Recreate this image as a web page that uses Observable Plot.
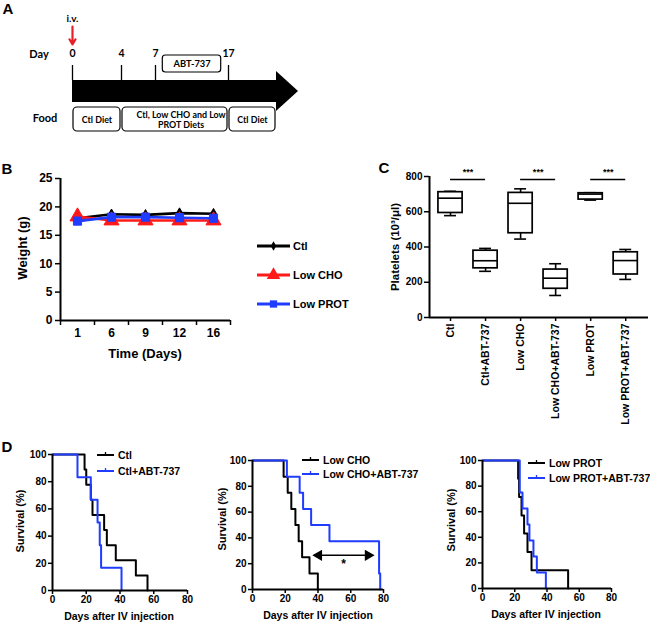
<!DOCTYPE html>
<html><head><meta charset="utf-8">
<script src="https://cdn.jsdelivr.net/npm/d3@7"></script>
<script src="https://cdn.jsdelivr.net/npm/@observablehq/plot@0.6"></script>
<style>
body{margin:0;background:#fff}
#fig{position:relative;width:650px;height:624px;overflow:hidden;background:#fff;color:#000}
</style></head><body><div id="fig"></div>
<script>
// ---------------- DATA ----------------
// Panel A (schematic timeline)
const dayTicks = [0, 4, 7, 17];
const timelineEnd = 21;      // schematic end of the timeline body
const arrowTip = 23;         // schematic tip of the arrow head
const abtWindow = [{start: 8, end: 16, label: "ABT-737"}];
const foodPhases = [
  {start: 0, end: 4, label: "Ctl Diet"},
  {start: 4, end: 17, label: "Ctl, Low CHO and Low\nPROT Diets"},
  {start: 17, end: 21, label: "Ctl Diet"}
];
// Panel B (weight)
const weightDays = ["1", "6", "9", "12", "16"];
const weightCtl = [18.0, 18.7, 18.6, 18.9, 18.8];
const weightLowCHO = [18.3, 17.6, 17.6, 17.6, 17.6];
const weightLowPROT = [17.5, 18.2, 18.2, 18.1, 18.0];
const weightSeriesNames = ["Ctl", "Low CHO", "Low PROT"];
// Panel C (platelets box plots)
const plateletGroups = ["Ctl", "Ctl+ABT-737", "Low CHO", "Low CHO+ABT-737", "Low PROT", "Low PROT+ABT-737"];
const plateletMin = [578, 262, 445, 125, 666, 216];
const plateletQ1 = [593, 279, 478, 163, 669, 244];
const plateletMedian = [677, 322, 648, 223, 700, 323];
const plateletQ3 = [711, 379, 707, 272, 705, 370];
const plateletMax = [716, 392, 730, 305, 708, 386];
const sigPairs = [[0, 1], [2, 3], [4, 5]];
const sigLevel = 783;
const sigLabel = "***";
// Panel D (survival, step curves)
const ctlDays = [0, 19, 20, 22.7, 23.7, 30.6, 32.2, 37.5, 49.4, 56.3];
const ctlSurv = [100, 88.9, 77.8, 66.7, 55.6, 44.4, 33.3, 22.2, 11.1, 0];
const ctlAbtDays = [0, 14.8, 22.7, 26.7, 28, 28.8, 40.9];
const ctlAbtSurv = [100, 83.3, 66.7, 50, 33.3, 16.7, 0];
const choDays = [0, 19, 21.5, 23.7, 26.2, 28.2, 30.3, 34.8, 39.9];
const choSurv = [100, 87.5, 75, 62.5, 50, 37.5, 25, 12.5, 0];
const choAbtDays = [0, 21, 28.8, 30.9, 35.8, 47, 77.3, 78];
const choAbtSurv = [100, 87.5, 75, 62.5, 50, 37.5, 12.5, 0];
const protDays = [0, 22.1, 22.7, 24.2, 25.8, 27.9, 30.4, 53.1];
const protSurv = [100, 85.7, 71.4, 57.1, 42.9, 28.6, 14.3, 0];
const protAbtDays = [0, 23.1, 24.8, 27.9, 29.1, 31.6, 33.7, 39.3];
const protAbtSurv = [100, 75, 62.5, 50, 37.5, 25, 12.5, 0];
const choSigRange = [40.5, 70.6];
const choSigLevel = 26.5;

// ---------------- HELPERS ----------------
const FONT = "'Liberation Sans', Arial, Helvetica, sans-serif";
const FONT_A = "Lato, 'Open Sans', sans-serif";
const BLACK = "#000", RED = "#ff1a1a", BLUE = "#1f3cff";
const fig = document.getElementById("fig");
function put(el, left, top) {
  el.style.position = "absolute"; el.style.left = left + "px"; el.style.top = top + "px";
  fig.appendChild(el); return el;
}
function txt(s, x, y, o = {}) {
  const d = document.createElement("div");
  d.textContent = s;
  d.style.cssText = `position:absolute;left:${x}px;top:${y}px;white-space:nowrap;font-size:${o.size ?? 11}px;font-weight:${o.weight ?? "bold"};font-family:${o.family ?? FONT};line-height:1;`;
  const tx = o.anchor === "start" ? "0" : o.anchor === "end" ? "-100%" : "-50%";
  d.style.transform = `translate(${tx},-50%)` + (o.rotate ? ` rotate(${o.rotate}deg)` : "");
  fig.appendChild(d);
}
const baseStyle = (size) => ({fontFamily: FONT, fontWeight: "bold", fontSize: size + "px", color: "#000", background: "transparent", overflow: "visible"});

// ---------------- PANEL LETTERS ----------------
txt("A", 8, 8, {size: 15});
txt("B", 7, 168, {size: 15});
txt("C", 384, 167, {size: 15});
txt("D", 7, 446, {size: 15});

// ---------------- PANEL A ----------------
const row = {iv: 18, ivTop: 26, ivBottom: 44, day: 53, abtTop: 55, abtBottom: 72, tickTop: 65,
  barTop: 80, barBottom: 102, headTop: 71, headBottom: 111, headMid: 91, foodTop: 107, foodBottom: 131, foodMid: 119};
const plotA = Plot.plot({
  width: 310, height: 140, margin: 0,
  x: {type: "linear", domain: [0, 4, 7, 17, timelineEnd, arrowTip], range: [72, 121, 155, 228, 276, 298], axis: null},
  y: {type: "linear", domain: [0, 140], range: [0, 140], axis: null},
  style: {fontFamily: FONT_A, fontWeight: "bold", fontSize: "9.3px", background: "transparent", overflow: "visible"},
  marks: [
    Plot.text([dayTicks[0]], {x: d => d, y: () => row.iv, text: () => "i.v.", fontSize: 10}),
    Plot.arrow([dayTicks[0]], {x1: d => d, x2: d => d, y1: () => row.ivTop, y2: () => row.ivBottom, stroke: "#e8202a", strokeWidth: 2.2, headLength: 6}),
    Plot.text(dayTicks, {x: d => d, y: () => row.day, text: d => String(d), fontSize: 10.5}),
    Plot.ruleX(dayTicks, {x: d => d, y1: () => row.tickTop, y2: () => row.barTop, strokeWidth: 1.3}),
    Plot.rect(abtWindow, {x1: "start", x2: "end", y1: () => row.abtTop, y2: () => row.abtBottom, rx: 3, fill: "white", stroke: BLACK, strokeWidth: 1.2}),
    Plot.text(abtWindow, {x: d => (d.start + d.end) / 2, y: () => (row.abtTop + row.abtBottom) / 2, text: "label"}),
    Plot.rect([timelineEnd], {x1: () => 0, x2: d => d, y1: () => row.barTop, y2: () => row.barBottom, fill: BLACK}),
    Plot.areaY([{x: timelineEnd, y1: row.headTop, y2: row.headBottom}, {x: arrowTip, y1: row.headMid, y2: row.headMid}], {x: "x", y1: "y1", y2: "y2", fill: BLACK}),
    Plot.rect(foodPhases, {x1: "start", x2: "end", y1: () => row.foodTop, y2: () => row.foodBottom, rx: 4, insetLeft: 1, insetRight: 1, fill: "white", stroke: BLACK, strokeWidth: 1.2}),
    Plot.text(foodPhases, {x: d => (d.start + d.end) / 2, y: () => row.foodMid, text: "label", lineHeight: 1.1, fontSize: 8.9})
  ]
});
put(plotA, 0, 0);
txt("Day", 39, 53, {size: 11, family: FONT_A});
txt("Food", 45, 117, {size: 11, family: FONT_A});

// ---------------- PANEL B ----------------
const weightValues = [weightCtl, weightLowCHO, weightLowPROT];
const weightStyle = [
  {color: BLACK, symbol: "diamond", r: 3.2},
  {color: RED, symbol: "triangle", r: 5.6},
  {color: BLUE, symbol: "square", r: 4.6}
];
const idxB = d3.range(weightDays.length);
const plotB = Plot.plot({
  width: 240, height: 205, marginLeft: 60, marginRight: 10, marginTop: 18, marginBottom: 45,
  x: {type: "linear", domain: [-0.5, weightDays.length - 0.5]},
  y: {domain: [0, 25]},
  style: baseStyle(12),
  marks: [
    Plot.axisY({ticks: [0, 5, 10, 15, 20, 25], tickSize: 5, tickPadding: 3, strokeWidth: 1.5, label: null}),
    Plot.axisX({ticks: idxB, tickFormat: i => weightDays[i], tickSize: 0, tickPadding: 8, label: null}),
    Plot.axisX({ticks: d3.range(-0.5, weightDays.length, 1), tickFormat: () => "", tickSize: 5, strokeWidth: 1.5, label: null}),
    Plot.ruleX([-0.5], {strokeWidth: 2}),
    Plot.ruleY([0], {strokeWidth: 2}),
    ...weightValues.flatMap((vals, k) => {
      const rows = vals.map((v, i) => ({i, v}));
      const s = weightStyle[k];
      return [
        Plot.line(rows, {x: "i", y: "v", stroke: s.color, strokeWidth: 2.6}),
        Plot.dot(rows, {x: "i", y: "v", symbol: s.symbol, r: s.r, fill: s.color, stroke: s.color, strokeWidth: 1})
      ];
    })
  ]
});
put(plotB, 0, 160);
txt("Weight (g)", 22, 248, {size: 13, rotate: -90});
txt("Time (Days)", 145, 353, {size: 13});
// legend B
weightSeriesNames.forEach((name, k) => {
  const s = weightStyle[k];
  const y = 246 + k * 29;
  const svg = d3.create("svg").attr("width", 36).attr("height", 16);
  svg.append("line").attr("x1", 1).attr("x2", 34).attr("y1", 8).attr("y2", 8).attr("stroke", s.color).attr("stroke-width", 2.8);
  const sym = {diamond: d3.symbolDiamond, triangle: d3.symbolTriangle, square: d3.symbolSquare}[s.symbol];
  svg.append("path").attr("d", d3.symbol(sym, Math.PI * s.r * s.r * 0.8)()).attr("transform", "translate(17.5,8)").attr("fill", s.color);
  put(svg.node(), 256, y - 8);
  txt(name, 293, y, {size: 11, anchor: "start"});
});

// ---------------- PANEL C ----------------
const idxC = d3.range(plateletGroups.length);
const halfBox = 0.345, halfCap = 0.17;
const plotC = Plot.plot({
  width: 310, height: 270, marginLeft: 89, marginRight: 2, marginTop: 16, marginBottom: 113,
  x: {type: "linear", domain: [-0.6, 5.65]},
  y: {domain: [0, 800]},
  style: baseStyle(10),
  marks: [
    Plot.axisY({ticks: [0, 200, 400, 600, 800], tickSize: 5, tickPadding: 2, strokeWidth: 1.5, label: null}),
    Plot.axisX({ticks: idxC, tickFormat: i => plateletGroups[i], tickRotate: -90, tickSize: 4, tickPadding: 2, strokeWidth: 1.5, label: null, fontSize: 10.5}),
    Plot.ruleX([-0.6], {strokeWidth: 2}),
    Plot.ruleY([0], {strokeWidth: 2}),
    Plot.ruleX(idxC, {x: i => i, y1: i => plateletMin[i], y2: i => plateletMax[i], strokeWidth: 1.6}),
    Plot.ruleY(idxC, {x1: i => i - halfCap, x2: i => i + halfCap, y: i => plateletMin[i], strokeWidth: 1.6}),
    Plot.ruleY(idxC, {x1: i => i - halfCap, x2: i => i + halfCap, y: i => plateletMax[i], strokeWidth: 1.6}),
    Plot.rect(idxC, {x1: i => i - halfBox, x2: i => i + halfBox, y1: i => plateletQ1[i], y2: i => plateletQ3[i], fill: "white", stroke: BLACK, strokeWidth: 1.7}),
    Plot.ruleY(idxC, {x1: i => i - halfBox, x2: i => i + halfBox, y: i => plateletMedian[i], strokeWidth: 1.6}),
    Plot.ruleY(sigPairs, {x1: p => p[0], x2: p => p[1], y: () => sigLevel, strokeWidth: 1.6}),
    Plot.text(sigPairs, {x: p => (p[0] + p[1]) / 2, y: () => sigLevel, dy: -7, text: () => sigLabel, fontSize: 9})
  ]
});
put(plotC, 340, 160);
txt("Platelets (10³/μl)", 396, 247, {size: 11.5, rotate: -90});

// ---------------- PANEL D ----------------
function steps(days, surv) { return days.map((t, i) => ({t, s: surv[i]})); }
function survivalPlot(series, dims, extra = []) {
  return Plot.plot({
    width: dims.width, height: dims.height, marginLeft: dims.ml, marginRight: dims.mr, marginTop: 14, marginBottom: 15,
    x: {domain: [0, 80]},
    y: {domain: [0, 100]},
    style: baseStyle(10),
    marks: [
      Plot.axisY({ticks: [0, 20, 40, 60, 80, 100], tickSize: 4, tickPadding: 2, strokeWidth: 1.5, label: null}),
      Plot.axisX({ticks: [0, 20, 40, 60, 80], tickSize: 4, tickPadding: 1, strokeWidth: 1.5, label: null}),
      ...series.map(s => Plot.line(steps(s.days, s.surv), {x: "t", y: "s", curve: "step-after", stroke: s.color, strokeWidth: 2})),
      Plot.ruleX([0], {strokeWidth: 2}),
      Plot.ruleY([0], {strokeWidth: 2}),
      ...extra
    ]
  });
}
function legendD(names, colors, x, ys) {
  names.forEach((name, k) => {
    const svg = d3.create("svg").attr("width", 20).attr("height", 10);
    svg.append("line").attr("x1", 1).attr("x2", 18).attr("y1", 5).attr("y2", 5).attr("stroke", colors[k]).attr("stroke-width", 2);
    svg.append("line").attr("x1", 9.5).attr("x2", 9.5).attr("y1", 2).attr("y2", 5).attr("stroke", colors[k]).attr("stroke-width", 1.3);
    put(svg.node(), x, ys[k] - 5);
    txt(name, x + 22, ys[k], {size: 10.5, anchor: "start"});
  });
}
// D1
put(survivalPlot([
  {days: ctlDays, surv: ctlSurv, color: BLACK},
  {days: ctlAbtDays, surv: ctlAbtSurv, color: BLUE}
], {width: 210, height: 165, ml: 52, mr: 23}), 0, 440);
legendD(["Ctl", "Ctl+ABT-737"], [BLACK, BLUE], 96, [455, 471]);
txt("Survival (%)", 20, 521, {size: 11, rotate: -90});
txt("Days after IV injection", 119, 616, {size: 10.5});
// D2
put(survivalPlot([
  {days: choDays, surv: choSurv, color: BLACK},
  {days: choAbtDays, surv: choAbtSurv, color: BLUE}
], {width: 210, height: 158, ml: 42, mr: 37}, [
  Plot.ruleY([choSigLevel], {x1: () => choSigRange[0] + 1.5, x2: () => choSigRange[1] - 1.5, strokeWidth: 1.5}),
  Plot.dot(choSigRange, {x: d => d, y: () => choSigLevel, symbol: "triangle", r: 4.2, fill: BLACK, rotate: (d, i) => i === 0 ? -90 : 90}),
  Plot.text([choSigRange], {x: d => (d[0] + d[1]) / 2, y: () => choSigLevel, dy: 9, text: () => "*", fontSize: 12})
]), 210, 446);
legendD(["Low CHO", "Low CHO+ABT-737"], [BLACK, BLUE], 301, [460, 474]);
txt("Survival (%)", 222, 519, {size: 11, rotate: -90});
txt("Days after IV injection", 318, 615, {size: 10.5});
// D3
put(survivalPlot([
  {days: protDays, surv: protSurv, color: BLACK},
  {days: protAbtDays, surv: protAbtSurv, color: BLUE}
], {width: 210, height: 157, ml: 52, mr: 29}), 430, 446);
legendD(["Low PROT", "Low PROT+ABT-737"], [BLACK, BLUE], 527, [463, 478]);
txt("Survival (%)", 451, 520, {size: 11, rotate: -90});
txt("Days after IV injection", 546, 614, {size: 10.5});
</script></body></html>
